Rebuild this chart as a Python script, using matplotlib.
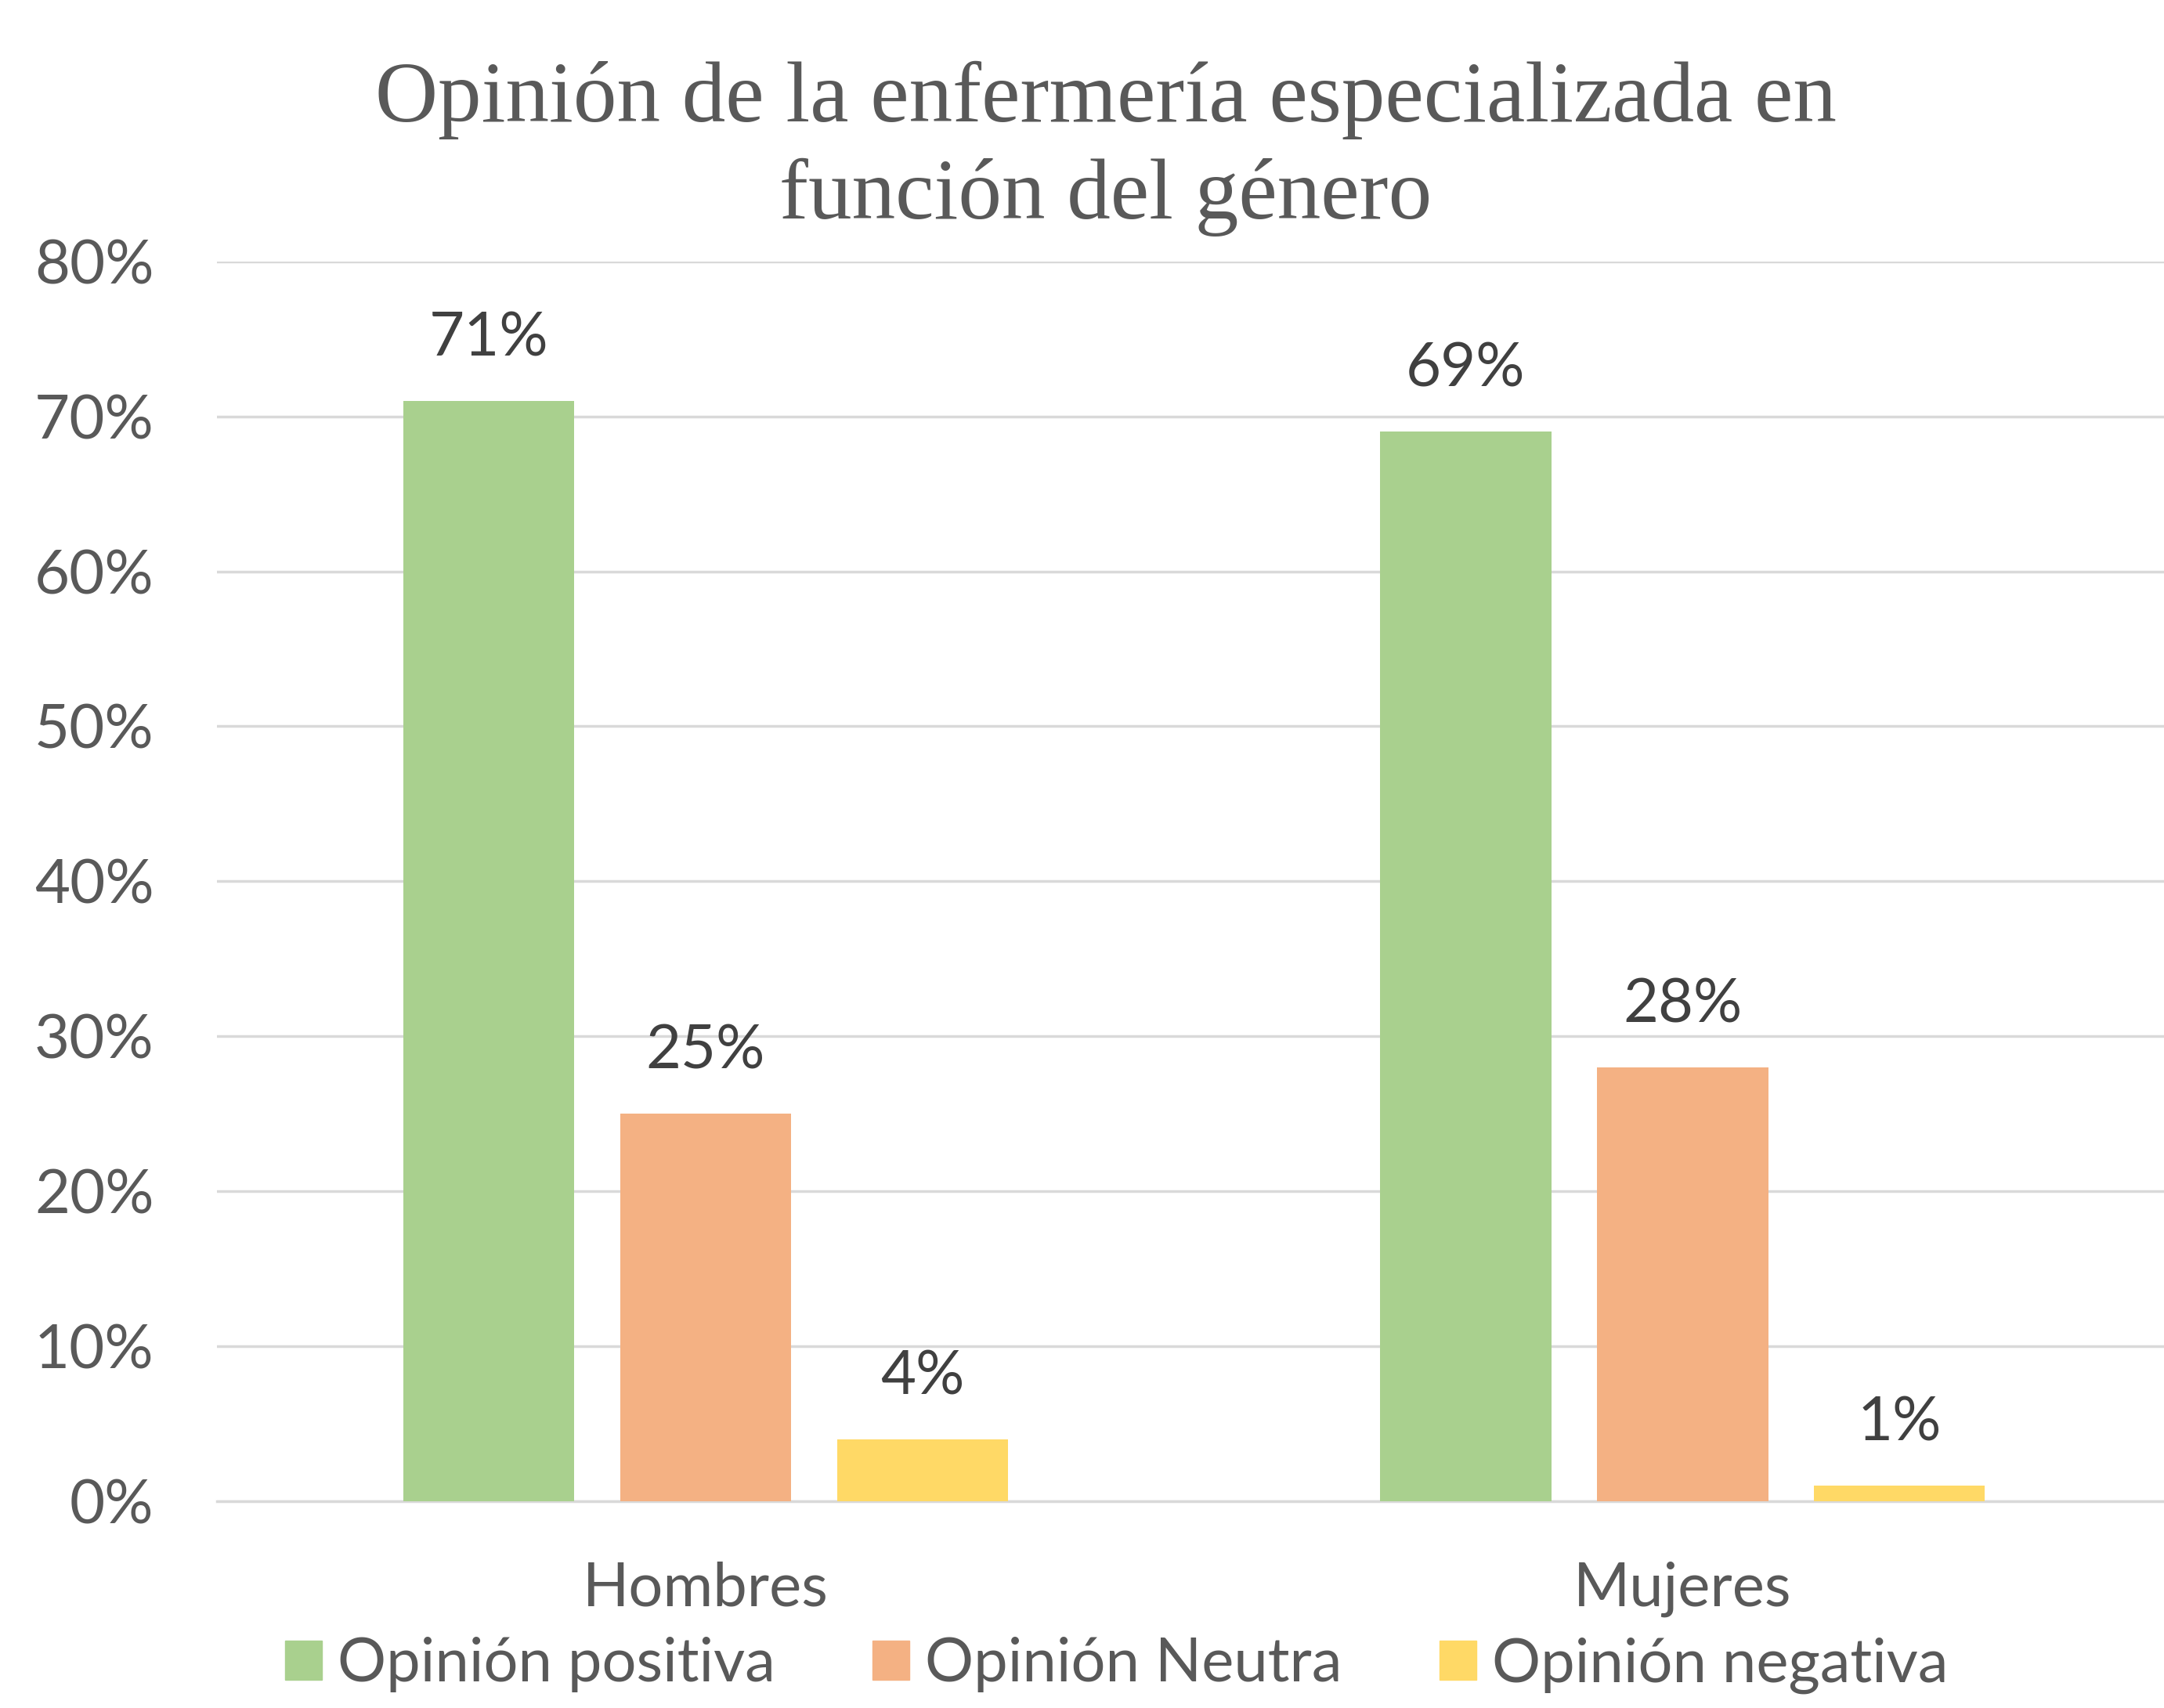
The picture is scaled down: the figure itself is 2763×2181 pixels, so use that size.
import numpy as np
import matplotlib
matplotlib.use("Agg")
import matplotlib.pyplot as plt
from matplotlib.patches import Patch

# datos
categorias = ["Hombres", "Mujeres"]
series = ["Opinión positiva", "Opinión Neutra", "Opinión negativa"]
positiva = [71, 69]
neutra = [25, 28]
negativa = [4, 1]
yticks = [0, 10, 20, 30, 40, 50, 60, 70, 80]

colores = ["#A9D08E", "#F4B183", "#FFD966"]
gris = "#595959"
font_txt = ["Lato", "DejaVu Sans"]
tam = 56

fig = plt.figure(figsize=(27.63, 21.81), dpi=100)
ax = fig.add_axes([0.1003, 0.121, 0.903, 0.726])

x = np.arange(len(categorias))
ancho = 0.175
desp = 0.222
valores = [positiva, neutra, negativa]
for i, (vals, col) in enumerate(zip(valores, colores)):
    barras = ax.bar(x + (i - 1) * desp, vals, width=ancho, color=col, zorder=3)
    for b, v in zip(barras, vals):
        ax.annotate(f"{v}%", (b.get_x() + b.get_width() / 2, v),
                    xytext=(0, 57), textcoords="offset points",
                    ha="center", va="center", fontsize=tam,
                    color="#404040", family=font_txt)

ax.set_xlim(-0.5, 1.5)
ax.set_ylim(0, 80)
ax.set_yticks(yticks)
ax.set_yticklabels([f"{t}%" for t in yticks], fontsize=tam, color=gris, family=font_txt)
ax.set_xticks(x)
ax.set_xticklabels(categorias, fontsize=tam, color=gris, family=font_txt)
ax.tick_params(axis="y", length=0, pad=58)
ax.tick_params(axis="x", length=0, pad=55)
ax.grid(axis="y", color="#D9D9D9", linewidth=2.5, zorder=0)
for s in ["top", "right", "left"]:
    ax.spines[s].set_visible(False)
ax.spines["bottom"].set_color("#D9D9D9")
ax.spines["bottom"].set_linewidth(2.5)

fig.text(0.511, 0.913, "Opinión de la enfermería especializada en\nfunción del género",
         ha="center", va="center", fontsize=80, color=gris,
         family="Liberation Serif", linespacing=1.3)

handles = [Patch(color=c, label=s) for c, s in zip(colores, series)]
fig.legend(handles=handles, loc="center", bbox_to_anchor=(0.516, 0.025), ncol=3,
           frameon=False, prop={"family": font_txt, "size": tam},
           handlelength=0.6, handleheight=0.6, handletextpad=0.26,
           columnspacing=1.6, labelcolor=gris)

fig.savefig("out.png", dpi=100)
